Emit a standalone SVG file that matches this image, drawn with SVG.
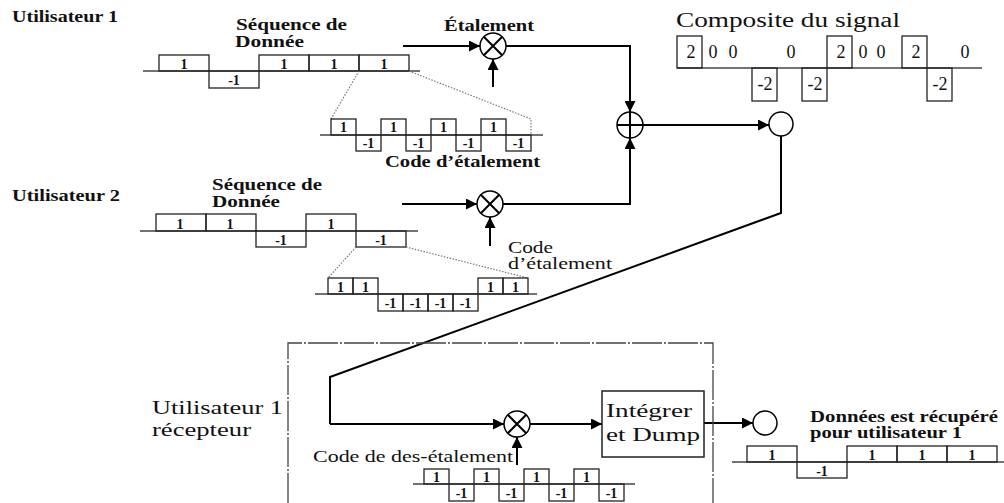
<svg xmlns="http://www.w3.org/2000/svg" width="1004" height="503" viewBox="0 0 1004 503">
<defs>
<marker id="ah" viewBox="0 0 10 10" refX="10" refY="5" markerWidth="13" markerHeight="11" markerUnits="userSpaceOnUse" orient="auto">
<path d="M0,0 L10,5 L0,10 z" fill="#000"/>
</marker>
<style>
text{font-family:"Liberation Serif","DejaVu Serif",serif;fill:#111}
.b{font-weight:bold;font-size:16px}
.r{font-size:20px}
.rs{font-size:18px}
.s{font-size:16px}
.lb{font-weight:bold;font-size:14px;text-anchor:middle}
.lr{font-size:18px;text-anchor:middle}
.box{fill:none;stroke:#222;stroke-width:1.3}
.base{fill:none;stroke:#444;stroke-width:1.5}
.dot{fill:none;stroke:#777;stroke-width:1.2;stroke-dasharray:1.5,1.5}
.con{fill:none;stroke:#000;stroke-width:2}
.arr{fill:none;stroke:#000;stroke-width:2;marker-end:url(#ah)}
.op{fill:#fff;stroke:#000;stroke-width:1.5}
</style>
</defs>

<g id="labels-user1">
<text class="b" x="12" y="22" textLength="106" lengthAdjust="spacingAndGlyphs">Utilisateur 1</text>
<text class="b" x="236" y="30" textLength="111" lengthAdjust="spacingAndGlyphs">Séquence de</text>
<text class="b" x="235" y="47" textLength="69" lengthAdjust="spacingAndGlyphs">Donnée</text>
<text class="b" x="444" y="31" textLength="90" lengthAdjust="spacingAndGlyphs">Étalement</text>
<text class="b" x="385" y="167" textLength="155" lengthAdjust="spacingAndGlyphs">Code d’étalement</text>
</g>

<g id="data-user1">
<path class="base" d="M143,71 H420"/>
<rect class="box" x="159" y="55" width="50" height="16"/>
<rect class="box" x="209" y="71" width="50" height="17"/>
<rect class="box" x="259" y="55" width="50" height="16"/>
<rect class="box" x="309" y="55" width="50" height="16"/>
<rect class="box" x="359" y="55" width="50" height="16"/>
<text class="lb" x="184" y="69">1</text>
<text class="lb" x="234" y="85">-1</text>
<text class="lb" x="284" y="69">1</text>
<text class="lb" x="334" y="69">1</text>
<text class="lb" x="384" y="69">1</text>
<path class="dot" d="M359,71 L331,119 M409,71 L531,119 V135"/>
</g>

<g id="code-user1">
<path class="base" d="M320,135 H543"/>
<rect class="box" x="331" y="119" width="25" height="16"/>
<rect class="box" x="356" y="135" width="25" height="16"/>
<rect class="box" x="381" y="119" width="25" height="16"/>
<rect class="box" x="406" y="135" width="25" height="16"/>
<rect class="box" x="431" y="119" width="25" height="16"/>
<rect class="box" x="456" y="135" width="25" height="16"/>
<rect class="box" x="481" y="119" width="25" height="16"/>
<rect class="box" x="506" y="135" width="25" height="16"/>
<text class="lb" x="343.5" y="132">1</text>
<text class="lb" x="368.5" y="148">-1</text>
<text class="lb" x="393.5" y="132">1</text>
<text class="lb" x="418.5" y="148">-1</text>
<text class="lb" x="443.5" y="132">1</text>
<text class="lb" x="468.5" y="148">-1</text>
<text class="lb" x="493.5" y="132">1</text>
<text class="lb" x="518.5" y="148">-1</text>
</g>

<g id="composite">
<text class="r" x="676" y="27" textLength="224" lengthAdjust="spacingAndGlyphs">Composite du signal</text>
<path class="base" d="M677,68 H982"/>
<rect class="box" x="677" y="36" width="25" height="32"/>
<rect class="box" x="827" y="36" width="25" height="32"/>
<rect class="box" x="902" y="36" width="25" height="32"/>
<rect class="box" x="752" y="68" width="25" height="33"/>
<rect class="box" x="802" y="68" width="25" height="33"/>
<rect class="box" x="927" y="68" width="25" height="33"/>
<text class="lr" x="691" y="58">2</text>
<text class="lr" x="713" y="58">0</text>
<text class="lr" x="733" y="58">0</text>
<text class="lr" x="791" y="58">0</text>
<text class="lr" x="841" y="58">2</text>
<text class="lr" x="863" y="58">0</text>
<text class="lr" x="881" y="58">0</text>
<text class="lr" x="916" y="58">2</text>
<text class="lr" x="965" y="58">0</text>
<text class="lr" x="765" y="90">-2</text>
<text class="lr" x="815" y="90">-2</text>
<text class="lr" x="940" y="90">-2</text>
</g>

<g id="labels-user2">
<text class="b" x="12" y="201" textLength="108" lengthAdjust="spacingAndGlyphs">Utilisateur 2</text>
<text class="b" x="212" y="190" textLength="110" lengthAdjust="spacingAndGlyphs">Séquence de</text>
<text class="b" x="212" y="207" textLength="68" lengthAdjust="spacingAndGlyphs">Donnée</text>
<text class="s" x="508" y="253" textLength="45" lengthAdjust="spacingAndGlyphs">Code</text>
<text class="s" x="508" y="269" textLength="104" lengthAdjust="spacingAndGlyphs">d’étalement</text>
</g>

<g id="data-user2">
<path class="base" d="M140,231 H418"/>
<rect class="box" x="156" y="214" width="50" height="17"/>
<rect class="box" x="206" y="214" width="50" height="17"/>
<rect class="box" x="256" y="231" width="50" height="16"/>
<rect class="box" x="306" y="214" width="50" height="17"/>
<rect class="box" x="356" y="231" width="50" height="16"/>
<text class="lb" x="180" y="229">1</text>
<text class="lb" x="230" y="229">1</text>
<text class="lb" x="281" y="245">-1</text>
<text class="lb" x="331" y="229">1</text>
<text class="lb" x="381" y="245">-1</text>
<path class="dot" d="M356,247 L328,278 M406,247 L528,278"/>
</g>

<g id="code-user2">
<path class="base" d="M315,294 H537"/>
<rect class="box" x="328" y="278" width="25" height="16"/>
<rect class="box" x="353" y="278" width="25" height="16"/>
<rect class="box" x="378" y="294" width="25" height="17"/>
<rect class="box" x="403" y="294" width="25" height="17"/>
<rect class="box" x="428" y="294" width="25" height="17"/>
<rect class="box" x="453" y="294" width="25" height="17"/>
<rect class="box" x="478" y="278" width="25" height="16"/>
<rect class="box" x="503" y="278" width="25" height="16"/>
<text class="lb" x="340.5" y="292">1</text>
<text class="lb" x="365.5" y="292">1</text>
<text class="lb" x="390.5" y="308">-1</text>
<text class="lb" x="415.5" y="308">-1</text>
<text class="lb" x="440.5" y="308">-1</text>
<text class="lb" x="465.5" y="308">-1</text>
<text class="lb" x="490.5" y="292">1</text>
<text class="lb" x="515.5" y="292">1</text>
</g>

<g id="connectors">
<path class="arr" d="M403,46 H480"/>
<path class="arr" d="M493,87 V59"/>
<path class="arr" d="M506,46 H630 V112"/>
<path class="arr" d="M402,204 H477"/>
<path class="arr" d="M490,246 V217"/>
<path class="arr" d="M503,204 H630 V138"/>
<path class="arr" d="M643,125 H769"/>
<path class="con" d="M781,136 V213 L330,377 V424"/>
<path class="arr" d="M330,424 H504"/>
<path class="arr" d="M517,465 V437"/>
<path class="arr" d="M530,424 H602"/>
<path class="arr" d="M704,423 H753"/>
</g>

<g id="mult1">
<circle class="op" cx="493" cy="46" r="13"/>
<path class="con" stroke-width="1.5" d="M483.8,36.8 L502.2,55.2 M502.2,36.8 L483.8,55.2"/>
</g>
<g id="mult2">
<circle class="op" cx="490" cy="204" r="13"/>
<path class="con" stroke-width="1.5" d="M480.8,194.8 L499.2,213.2 M499.2,194.8 L480.8,213.2"/>
</g>
<g id="adder">
<circle class="op" cx="630" cy="125" r="13"/>
<path class="con" stroke-width="1.5" d="M617,125 H643 M630,112 V138"/>
</g>
<g id="channel">
<circle class="op" cx="781" cy="124" r="12"/>
</g>

<g id="receiver">
<path d="M288,503 V343 H713 V503" fill="none" stroke="#444" stroke-width="1.3" stroke-dasharray="30,2,2,2"/>
<text class="rs" x="152" y="414" textLength="131" lengthAdjust="spacingAndGlyphs">Utilisateur 1</text>
<text class="rs" x="152" y="436" textLength="99" lengthAdjust="spacingAndGlyphs">récepteur</text>
<text class="s" x="313" y="462" textLength="200" lengthAdjust="spacingAndGlyphs">Code de des-étalement</text>
</g>

<g id="mult3">
<circle class="op" cx="517" cy="424" r="13"/>
<path class="con" stroke-width="1.5" d="M507.8,414.8 L526.2,433.2 M526.2,414.8 L507.8,433.2"/>
</g>

<g id="integrator">
<rect x="602" y="391" width="102" height="66" fill="#fff" stroke="#222" stroke-width="1.5"/>
<text class="rs" x="606" y="417" textLength="86" lengthAdjust="spacingAndGlyphs">Intégrer</text>
<text class="rs" x="606" y="441" textLength="94" lengthAdjust="spacingAndGlyphs">et Dump</text>
</g>

<g id="code-despread">
<path class="base" d="M413,484 H635"/>
<rect class="box" x="424" y="469" width="25" height="15"/>
<rect class="box" x="449" y="484" width="25" height="17"/>
<rect class="box" x="474" y="469" width="25" height="15"/>
<rect class="box" x="499" y="484" width="25" height="17"/>
<rect class="box" x="524" y="469" width="25" height="15"/>
<rect class="box" x="549" y="484" width="25" height="17"/>
<rect class="box" x="574" y="469" width="25" height="15"/>
<rect class="box" x="599" y="484" width="25" height="17"/>
<text class="lb" x="436.5" y="482">1</text>
<text class="lb" x="461.5" y="498">-1</text>
<text class="lb" x="486.5" y="482">1</text>
<text class="lb" x="511.5" y="498">-1</text>
<text class="lb" x="536.5" y="482">1</text>
<text class="lb" x="561.5" y="498">-1</text>
<text class="lb" x="586.5" y="482">1</text>
<text class="lb" x="611.5" y="498">-1</text>
</g>

<g id="output">
<circle class="op" cx="765" cy="423" r="12"/>
<text class="b" x="810" y="422" textLength="188" lengthAdjust="spacingAndGlyphs">Données est récupéré</text>
<text class="b" x="810" y="438" textLength="152" lengthAdjust="spacingAndGlyphs">pour utilisateur 1</text>
<path class="base" d="M732,462 H1004"/>
<rect class="box" x="747" y="446" width="50" height="16"/>
<rect class="box" x="797" y="462" width="50" height="16"/>
<rect class="box" x="847" y="446" width="50" height="16"/>
<rect class="box" x="897" y="446" width="50" height="16"/>
<rect class="box" x="947" y="446" width="50" height="16"/>
<text class="lb" x="772" y="460">1</text>
<text class="lb" x="822" y="476">-1</text>
<text class="lb" x="872" y="460">1</text>
<text class="lb" x="922" y="460">1</text>
<text class="lb" x="972" y="460">1</text>
</g>
</svg>
